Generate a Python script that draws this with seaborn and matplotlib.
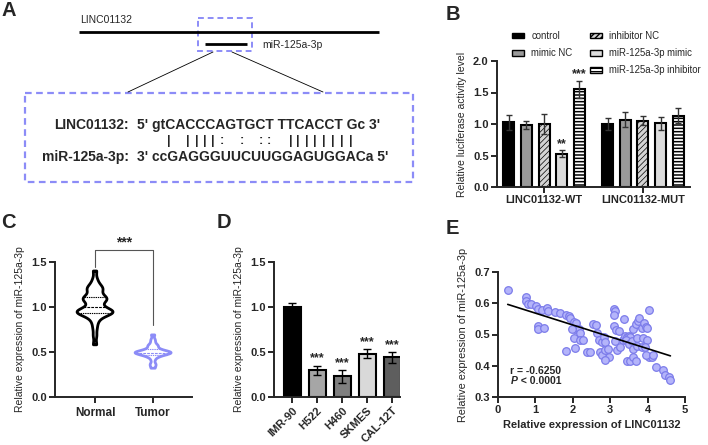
import numpy as np
import pandas as pd
import matplotlib
matplotlib.use("Agg")
import matplotlib.pyplot as plt
import matplotlib.patches as mpatches
import seaborn as sns

# ---------------- data ----------------
# Panel B
groups_b = ["LINC01132-WT", "LINC01132-MUT"]
conditions_b = ["control", "mimic NC", "inhibitor NC", "miR-125a-3p mimic", "miR-125a-3p inhibitor"]
wt_mean = [1.03, 0.98, 1.00, 0.53, 1.55]
wt_err = [0.12, 0.06, 0.16, 0.05, 0.13]
mut_mean = [1.00, 1.07, 1.05, 1.01, 1.13]
mut_err = [0.10, 0.12, 0.07, 0.10, 0.12]
wt_sig = ["", "", "", "**", "***"]
mut_sig = ["", "", "", "", ""]

# Panel C
normal_vals = [0.58, 0.68, 0.76, 0.82, 0.86,
               0.89, 0.91, 0.92, 0.93, 0.93, 0.94, 0.94, 0.95, 0.95, 0.96, 0.96, 0.97, 0.98,
               1.01, 1.03,
               1.06, 1.07, 1.08, 1.09, 1.10, 1.10, 1.11, 1.13,
               1.17, 1.19, 1.20, 1.21, 1.23, 1.26, 1.31, 1.40]
tumor_vals = [0.32, 0.35, 0.37, 0.41, 0.44, 0.45, 0.46, 0.47, 0.47, 0.48, 0.48,
              0.49, 0.49, 0.49, 0.49, 0.50, 0.50, 0.50, 0.51, 0.51, 0.52, 0.53, 0.54,
              0.56, 0.57, 0.58, 0.61, 0.64, 0.69]

# Panel D
cells_d = ["IMR-90", "H522", "H460", "SKMES", "CAL-12T"]
d_mean = [1.00, 0.30, 0.23, 0.48, 0.44]
d_err = [0.05, 0.05, 0.07, 0.05, 0.06]
d_sig = ["", "***", "***", "***", "***"]

# Panel E
linc_x = [0.26, 0.74, 0.76, 0.80, 0.89, 1.02, 1.07, 1.17, 1.31, 1.35, 1.07, 1.07, 1.22,
          1.53, 1.65, 1.82, 1.89, 1.93, 2.02, 2.09, 2.06, 2.16, 2.18, 1.97, 2.02, 2.20,
          2.27, 1.82, 2.06, 2.38, 2.45, 2.54, 2.62, 2.64, 2.71, 2.78, 2.84, 2.86, 2.72,
          2.77, 2.86, 2.95, 2.98, 2.86, 3.09, 3.13, 3.09, 3.09, 3.16, 3.24, 3.13, 3.33,
          3.37, 3.40, 3.44, 3.49, 3.53, 3.42, 3.49, 3.58, 3.60, 3.69, 3.75, 3.78, 3.84,
          3.90, 3.95, 3.99, 4.05, 3.71, 3.87, 3.99, 3.62, 3.72, 3.84, 3.93, 3.46, 3.53,
          3.62, 3.69, 4.05, 4.11, 4.22, 4.42, 4.46, 4.58, 4.61, 3.19, 3.26, 3.97, 4.15]
mir_y = [0.643, 0.620, 0.606, 0.599, 0.597, 0.590, 0.583, 0.579, 0.585, 0.574, 0.526,
         0.519, 0.522, 0.572, 0.570, 0.561, 0.558, 0.554, 0.540, 0.537, 0.519, 0.519,
         0.505, 0.519, 0.489, 0.483, 0.483, 0.447, 0.458, 0.444, 0.444, 0.533, 0.530,
         0.505, 0.483, 0.476, 0.492, 0.476, 0.444, 0.433, 0.449, 0.455, 0.429, 0.419,
         0.583, 0.576, 0.561, 0.526, 0.513, 0.510, 0.480, 0.483, 0.551, 0.496, 0.492,
         0.496, 0.492, 0.483, 0.471, 0.480, 0.518, 0.534, 0.543, 0.553, 0.521, 0.536,
         0.525, 0.521, 0.578, 0.488, 0.488, 0.483, 0.455, 0.462, 0.460, 0.460, 0.415,
         0.415, 0.428, 0.415, 0.428, 0.428, 0.396, 0.385, 0.372, 0.364, 0.353, 0.449,
         0.460, 0.433, 0.433]

# ---------------- style ----------------
sns.set_style("ticks")
plt.rcParams["font.family"] = ["Liberation Sans", "DejaVu Sans"]
plt.rcParams["hatch.linewidth"] = 1.0
plt.rcParams["axes.linewidth"] = 1.4

W, H = 708, 445
fig = plt.figure(figsize=(W / 100, H / 100), dpi=100)


def rect(l, t, r, b):
    return [l / W, 1 - b / H, (r - l) / W, (b - t) / H]


PURPLE = "#8c8cf7"
TICK_FS = 8


def style_axes(ax):
    sns.despine(ax=ax)
    ax.tick_params(axis="both", length=4, width=1.4, labelsize=TICK_FS, pad=2)
    for lab in ax.get_xticklabels() + ax.get_yticklabels():
        lab.set_fontweight("bold")


# ---------------- overlay (panel A + letters) ----------------
ov = fig.add_axes([0, 0, 1, 1])
ov.set_xlim(0, W)
ov.set_ylim(H, 0)
ov.axis("off")

for letter, (lx, ly) in {"A": (9, 10), "B": (453, 14), "C": (8, 222), "D": (224, 222), "E": (452, 228)}.items():
    ov.text(lx, ly, letter, fontsize=14.5, fontweight="bold", ha="center", va="center")

ov.plot([79, 379], [32, 32], color="black", lw=2.0, solid_capstyle="butt")
ov.text(80, 20, "LINC01132", fontsize=7.5, va="center", ha="left")
ov.add_patch(mpatches.Rectangle((198, 18), 54, 33, fill=False, edgecolor=PURPLE, lw=1.4, ls=(0, (3, 2))))
ov.plot([205, 247], [44, 44], color="black", lw=2.0, solid_capstyle="butt")
ov.text(262, 45, "miR-125a-3p", fontsize=7.5, va="center", ha="left")
ov.plot([213, 128], [52, 92], color="black", lw=0.6)
ov.plot([232, 323], [52, 92], color="black", lw=0.6)
ov.add_patch(mpatches.Rectangle((25, 93), 388, 89, fill=False, edgecolor=PURPLE, lw=1.6, ls=(0, (3, 2))))

ov.text(129, 125, "LINC01132:", fontsize=10, fontweight="bold", ha="right", va="center")
ov.text(137, 125, "5' gtCACCCAGTGCT TTCACCT Gc 3'", fontsize=10, fontweight="bold", ha="left", va="center")
ov.text(129, 157, "miR-125a-3p:", fontsize=10, fontweight="bold", ha="right", va="center")
ov.text(137, 157, "3' ccGAGGGUUCUUGGAGUGGACa 5'", fontsize=10, fontweight="bold", ha="left", va="center")
pair_marks = ["|", "|", "|", "|", "|", ":", ":", ":", ":", "|", "|", "|", "|", "|", "|", "|", "|"]
pair_x = [169, 188, 197, 205, 213, 222, 242, 261, 269, 291, 298, 307, 315, 324, 333, 342, 351]
for m, px in zip(pair_marks, pair_x):
    ov.text(px, 141, m, fontsize=9, fontweight="bold", ha="center", va="center")

# ---------------- panel B ----------------
axB = fig.add_axes(rect(497, 61, 690, 187))
rows = []
for g, means in zip(groups_b, [wt_mean, mut_mean]):
    for c, v in zip(conditions_b, means):
        rows.append({"group": g, "condition": c, "value": v})
dfB = pd.DataFrame(rows)
colors_b = ["#000000", "#9a9a9a", "#d4d4d4", "#dcdcdc", "#ffffff"]
hatches_b = [None, None, "//////", None, "-----"]
sns.barplot(data=dfB, x="group", y="value", hue="condition", hue_order=conditions_b,
            palette=dict(zip(conditions_b, colors_b)), width=0.89, gap=0.375,
            edgecolor="black", linewidth=1.5, errorbar=None, legend=False, ax=axB)
bar_conts_b = list(axB.containers)
errs_b = [[wt_err[i], mut_err[i]] for i in range(5)]
sigs_b = [[wt_sig[i], mut_sig[i]] for i in range(5)]
for i, cont in enumerate(bar_conts_b):
    for j, bar in enumerate(cont):
        if hatches_b[i]:
            bar.set_hatch(hatches_b[i])
            if hasattr(bar, "set_hatch_linewidth"):
                bar.set_hatch_linewidth(1.1 if hatches_b[i].startswith("-") else 0.5)
        xc = bar.get_x() + bar.get_width() / 2
        h = bar.get_height()
        axB.errorbar(xc, h, yerr=errs_b[i][j], fmt="none", ecolor="#333333",
                     elinewidth=1.0, capsize=2.5, capthick=1.0, zorder=4)
        if sigs_b[i][j]:
            axB.text(xc, h + errs_b[i][j] + 0.01, sigs_b[i][j], ha="center", va="bottom",
                     fontsize=9, fontweight="bold")
axB.set_xlim(-0.475, 1.475)
axB.set_ylim(0, 2.0)
axB.set_yticks([0, 0.5, 1.0, 1.5, 2.0])
axB.set_yticklabels(["0.0", "0.5", "1.0", "1.5", "2.0"])
axB.set_xlabel("")
axB.set_ylabel("Relative luciferase activity level", fontsize=7.5, labelpad=4)
style_axes(axB)

handles = []
for c, col, ht in zip(conditions_b, colors_b, hatches_b):
    p = mpatches.Patch(facecolor=col, edgecolor="black", hatch=ht, lw=1.0, label=c)
    handles.append(p)
blank = mpatches.Patch(facecolor="none", edgecolor="none", label="")
leg_handles = [handles[0], handles[1], blank, handles[2], handles[3], handles[4]]
fig.legend(handles=leg_handles, labels=[h.get_label() for h in leg_handles], ncol=2,
           loc="upper left", bbox_to_anchor=(512 / W, 1 - 31 / H), frameon=False,
           fontsize=6.9, handlelength=1.3, handleheight=0.55, handletextpad=0.7,
           labelspacing=0.75, columnspacing=1.8, borderpad=0, borderaxespad=0)

# ---------------- panel C ----------------
axC = fig.add_axes(rect(55, 262, 192, 397))
dfC = pd.DataFrame({"group": ["Normal"] * len(normal_vals) + ["Tumor"] * len(tumor_vals),
                    "value": normal_vals + tumor_vals})
sns.violinplot(data=dfC, x="group", y="value", hue="group",
               palette={"Normal": "black", "Tumor": PURPLE}, fill=False, linewidth=2.0,
               inner="quart", inner_kws={"linewidth": 0.8}, cut=0, bw_adjust=0.45,
               density_norm="width", width=0.62, legend=False, ax=axC)
axC.set_xlim(-0.69, 1.67)
axC.set_ylim(0, 1.5)
axC.set_yticks([0, 0.5, 1.0, 1.5])
axC.set_yticklabels(["0.0", "0.5", "1.0", "1.5"])
axC.set_xlabel("")
axC.set_ylabel("Relative expression of miR-125a-3p", fontsize=7.5, labelpad=4)
axC.plot([0, 0, 1, 1], [1.45, 1.63, 1.63, 0.80], color="#555555", lw=0.8, clip_on=False)
axC.text(0.5, 1.64, "***", ha="center", va="bottom", fontsize=10, fontweight="bold")
style_axes(axC)
axC.tick_params(axis="x", labelsize=8.5, pad=3)

# ---------------- panel D ----------------
axD = fig.add_axes(rect(274, 262, 400, 397))
dfD = pd.DataFrame({"cell": cells_d, "value": d_mean})
colors_d = ["#000000", "#a6a6a6", "#7f7f7f", "#d9d9d9", "#5e5e5e"]
sns.barplot(data=dfD, x="cell", y="value", hue="cell", palette=dict(zip(cells_d, colors_d)),
            width=0.68, edgecolor="black", linewidth=1.5, errorbar=None, legend=False, ax=axD)
bars_d = [b for cont in list(axD.containers) for b in cont]
bars_d.sort(key=lambda b: b.get_x())
for b, e, s in zip(bars_d, d_err, d_sig):
    xc = b.get_x() + b.get_width() / 2
    axD.errorbar(xc, b.get_height(), yerr=e, fmt="none", ecolor="black", elinewidth=1.0,
                 capsize=3, capthick=1.0, zorder=4)
    if s:
        axD.text(xc, b.get_height() + e + 0.01, s, ha="center", va="bottom", fontsize=9,
                 fontweight="bold")
axD.set_xlim(-0.72, 4.32)
axD.set_ylim(0, 1.5)
axD.set_yticks([0, 0.5, 1.0, 1.5])
axD.set_yticklabels(["0.0", "0.5", "1.0", "1.5"])
axD.set_xlabel("")
axD.set_ylabel("Relative expression of miR-125a-3p", fontsize=7.5, labelpad=4)
style_axes(axD)
for lab in axD.get_xticklabels():
    lab.set_rotation(45)
    lab.set_ha("right")
    lab.set_rotation_mode("anchor")

# ---------------- panel E ----------------
axE = fig.add_axes(rect(498, 272, 685, 397))
dfE = pd.DataFrame({"linc": linc_x, "mir": mir_y})
sns.regplot(data=dfE, x="linc", y="mir", ci=None, ax=axE,
            scatter_kws={"s": 30, "facecolor": "#b4b4fa", "edgecolor": "#7c7cea", "linewidths": 0.9,
                         "alpha": 1.0, "zorder": 3},
            line_kws={"color": "black", "lw": 1.2, "zorder": 4})
axE.set_xlim(0, 5)
axE.set_ylim(0.3, 0.7)
axE.set_xticks([0, 1, 2, 3, 4, 5])
axE.set_yticks([0.3, 0.4, 0.5, 0.6, 0.7])
axE.set_xlabel("Relative expression of LINC01132", fontsize=8, fontweight="bold", labelpad=3)
axE.set_ylabel("Relative expression of miR-125a-3p", fontsize=7.8, labelpad=4)
axE.text(0.33, 0.383, "r = -0.6250", fontsize=7.5, fontweight="bold", ha="left", va="center")
axE.text(0.33, 0.351, "P", fontsize=7.5, fontweight="bold", fontstyle="italic", ha="left", va="center")
axE.annotate(" < 0.0001", xy=(0.33, 0.351), xytext=(5.8, 0), textcoords="offset points",
             fontsize=7.5, fontweight="bold", ha="left", va="center")
style_axes(axE)

fig.savefig("out.png", dpi=100)
